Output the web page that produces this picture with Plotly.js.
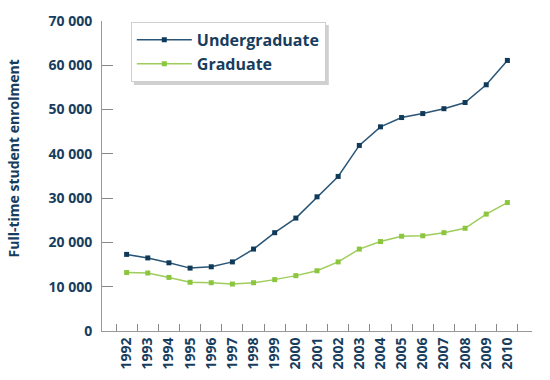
<!DOCTYPE html>
<html>
<head>
<meta charset="utf-8">
<script src="https://cdn.plot.ly/plotly-3.0.1.min.js"></script>
<style>html,body{margin:0;padding:0;background:#fff;}#chart{width:550px;height:380px;}</style>
</head>
<body>
<div id="chart"></div>
<script>
var years = ["1992","1993","1994","1995","1996","1997","1998","1999","2000","2001","2002","2003","2004","2005","2006","2007","2008","2009","2010"];
var undergraduate = [17300,16500,15400,14200,14500,15600,18500,22200,25500,30300,34900,41900,46100,48200,49100,50200,51600,55600,61100];
var graduate = [13200,13100,12100,11000,10900,10600,10900,11600,12500,13600,15600,18500,20200,21400,21500,22200,23200,26400,29000];
var seriesNames = ["Undergraduate","Graduate"];
var yTitle = "Full-time student enrolment";

var textColor = "#173d5e";
var fontFam = "'Open Sans', 'Noto Sans', sans-serif";

var traces = [
  {x: years, y: undergraduate, name: seriesNames[0], type: "scatter", mode: "lines+markers",
   line: {color: "#2a5576", width: 1.5}, marker: {symbol: "square", size: 5, color: "#0f3a5a"}},
  {x: years, y: graduate, name: seriesNames[1], type: "scatter", mode: "lines+markers",
   line: {color: "#9dcd5a", width: 1.5}, marker: {symbol: "square", size: 5, color: "#8cc63f"}}
];

var W = 550, H = 380, M = {l: 102, r: 18, t: 21, b: 49};
var layout = {
  width: W, height: H,
  margin: M,
  paper_bgcolor: "#fff", plot_bgcolor: "#fff",
  separators: ". ",
  font: {family: fontFam, color: textColor, size: 14, weight: "bold"},
  showlegend: true,
  legend: {x: 0.067, y: 0.997, xanchor: "left", yanchor: "top",
    bgcolor: "#fff", bordercolor: "#cfcfcf", borderwidth: 1,
    font: {family: fontFam, size: 16, color: textColor, weight: "bold"},
    itemwidth: 55, tracegroupgap: 2},
  xaxis: {type: "category", tickson: "boundaries", ticks: "inside", ticklen: 7, tickcolor: "#888",
    showline: true, linecolor: "#999", linewidth: 1, showgrid: false, zeroline: false,
    tickangle: -90, tickfont: {family: fontFam, size: 14, color: textColor, weight: "bold"},
    fixedrange: true},
  yaxis: {range: [0, 70000], dtick: 10000, tickformat: ",d", ticks: "inside", ticklen: 11, tickcolor: "#888",
    showline: true, linecolor: "#999", linewidth: 1, showgrid: false, zeroline: false,
    tickfont: {family: fontFam, size: 14, color: textColor, weight: "bold"}, ticklabelstandoff: 6,
    fixedrange: true},
  annotations: [{text: yTitle, textangle: -90, xref: "paper", yref: "paper",
    x: -0.205, y: 0.556, xanchor: "center", yanchor: "middle", showarrow: false,
    font: {family: fontFam, size: 14, color: textColor, weight: "bold"}}]
};

var gd = document.getElementById("chart");
Plotly.newPlot(gd, traces, layout, {displayModeBar: false, staticPlot: true}).then(function () {
  var lg = gd._fullLayout.legend;
  var pw = W - M.l - M.r, ph = H - M.t - M.b;
  var x0px = lg.x * pw, ytopPx = lg.y * ph;
  var lw = lg._width, lh = lg._height, off = 3;
  var shape = {type: "rect", xref: "paper", yref: "paper", layer: "above",
    x0: (x0px + off) / pw, x1: (x0px + lw + off) / pw,
    y0: (ytopPx - lh - off) / ph, y1: (ytopPx - off) / ph,
    fillcolor: "rgba(120,120,120,0.35)", line: {width: 0}};
  return Plotly.relayout(gd, {shapes: [shape]});
});
</script>
</body>
</html>
